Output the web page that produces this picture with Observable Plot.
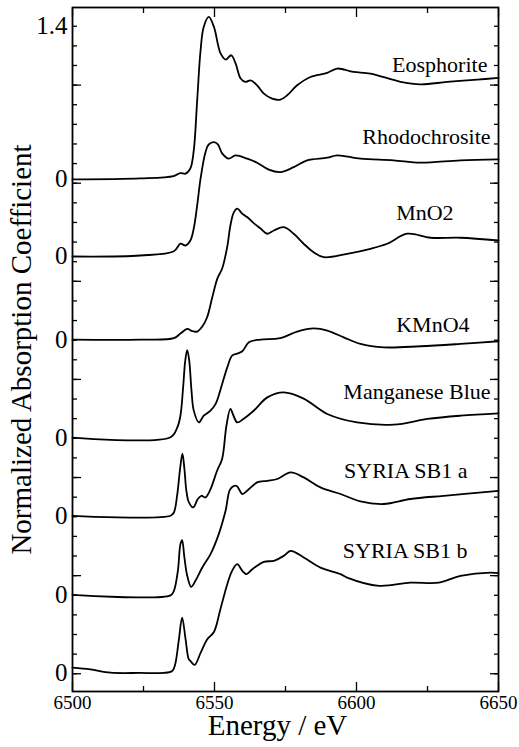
<!DOCTYPE html>
<html><head><meta charset="utf-8">
<script src="https://cdn.jsdelivr.net/npm/d3@7"></script>
<script src="https://cdn.jsdelivr.net/npm/@observablehq/plot@0.6"></script>
<style>body{margin:0;background:#fff} svg text{font-family:"Liberation Serif","DejaVu Serif",serif}</style>
</head><body><div id="chart"></div>
<script>
// Spectrum names (top to bottom) and vertical offsets (baselines)
const names = ["Eosphorite", "Rhodochrosite", "MnO2", "KMnO4", "Manganese Blue", "SYRIA SB1 a", "SYRIA SB1 b"];
const offsets = [5.039, 4.253, 3.406, 2.406, 1.610, 0.804, 0.008];

// Energies (eV) and normalized absorption for each spectrum
const eosE = [6500, 6523.9, 6535.6, 6538.0, 6539.8, 6541.5, 6542.7, 6543.9, 6545.1, 6546.2, 6548.0, 6549.8, 6552.1, 6553.9, 6555.9, 6557.4, 6559.2, 6560.9, 6562.7, 6565.0, 6567.4, 6570.3, 6573.2, 6575.6, 6579.1, 6583.8, 6589.7, 6593.2, 6598.9, 6604.9, 6615.5, 6622.5, 6631.9, 6642.5, 6650];
const eosV = [0, 0.01, 0.034, 0.064, 0.058, 0.112, 0.296, 0.806, 1.316, 1.554, 1.656, 1.554, 1.286, 1.221, 1.265, 1.184, 1.028, 0.993, 1.010, 0.959, 0.874, 0.823, 0.813, 0.857, 0.959, 1.044, 1.085, 1.130, 1.095, 1.079, 0.995, 0.969, 0.993, 1.017, 1.034];

const rhoE = [6500, 6523.9, 6535.7, 6538.0, 6539.8, 6541.5, 6542.7, 6543.9, 6545.1, 6546.8, 6548.0, 6549.8, 6551.2, 6552.7, 6555.0, 6557.4, 6561.5, 6565.0, 6569.1, 6573.2, 6577.9, 6582.6, 6589.7, 6593.2, 6601.4, 6613.0, 6622.5, 6636.6, 6650];
const rhoV = [0, 0.01, 0.054, 0.130, 0.112, 0.163, 0.286, 0.520, 0.796, 1.061, 1.143, 1.166, 1.143, 1.051, 0.997, 1.031, 0.997, 0.956, 0.885, 0.860, 0.911, 0.980, 1.007, 1.031, 0.997, 0.980, 0.956, 0.980, 0.990];

const mno2E = [6500, 6523.9, 6535.7, 6538.0, 6540.4, 6542.1, 6543.9, 6545.7, 6547.4, 6549.2, 6551.0, 6552.7, 6554.5, 6555.6, 6556.8, 6558.0, 6559.8, 6561.5, 6563.8, 6566.2, 6568.6, 6570.9, 6574.4, 6577.9, 6581.4, 6585.0, 6588.5, 6596.7, 6604.9, 6610.8, 6617.9, 6626.1, 6636.6, 6650];
const mno2V = [0, 0, 0.015, 0.061, 0.109, 0.087, 0.082, 0.133, 0.228, 0.429, 0.622, 0.724, 0.949, 1.163, 1.296, 1.334, 1.283, 1.249, 1.187, 1.133, 1.079, 1.112, 1.146, 1.079, 0.977, 0.888, 0.840, 0.874, 0.925, 0.977, 1.079, 1.038, 1.038, 1.010];

const kmno4E = [6500, 6534.5, 6536.9, 6538.0, 6539.0, 6539.7, 6540.4, 6541.1, 6541.9, 6542.7, 6544.5, 6546.2, 6548.6, 6550.4, 6552.7, 6554.5, 6556.2, 6558.0, 6559.8, 6562.1, 6566.2, 6573.2, 6579.1, 6585.0, 6589.7, 6595.5, 6601.4, 6609.6, 6622.5, 6636.6, 6650];
const kmno4V = [0, 0.005, 0.105, 0.224, 0.531, 0.786, 0.893, 0.786, 0.480, 0.276, 0.156, 0.224, 0.276, 0.344, 0.548, 0.717, 0.837, 0.857, 0.881, 0.972, 1.000, 1.015, 1.082, 1.115, 1.092, 1.023, 0.956, 0.921, 0.932, 0.956, 0.983];

const mnBlueE = [6500, 6534.5, 6535.7, 6536.9, 6537.8, 6538.7, 6539.4, 6540.1, 6541.0, 6542.5, 6544.1, 6545.4, 6546.8, 6548.6, 6550.9, 6552.7, 6554.2, 6555.6, 6556.7, 6558.0, 6560.3, 6563.8, 6568.6, 6574.4, 6581.4, 6589.7, 6600.2, 6613.1, 6624.9, 6636.6, 6650];
const mnBlueV = [0, 0, 0.034, 0.221, 0.459, 0.633, 0.480, 0.255, 0.136, 0.085, 0.170, 0.204, 0.187, 0.272, 0.459, 0.582, 0.918, 1.089, 1.020, 0.952, 0.990, 1.071, 1.207, 1.258, 1.194, 1.038, 0.952, 0.929, 0.987, 1.020, 1.044];

const syriaAE = [6500, 6534.5, 6535.7, 6537.1, 6538.0, 6538.6, 6539.4, 6540.4, 6541.8, 6543.3, 6545.7, 6548.6, 6551.5, 6553.9, 6555.6, 6557.7, 6559.8, 6561.5, 6565.0, 6568.6, 6572.1, 6576.8, 6581.4, 6587.3, 6594.4, 6601.4, 6609.6, 6619.0, 6630.7, 6650];
const syriaAV = [0, -0.005, 0.041, 0.245, 0.517, 0.558, 0.381, 0.194, 0.082, 0.143, 0.279, 0.415, 0.619, 0.857, 1.079, 1.112, 1.028, 1.061, 1.146, 1.163, 1.181, 1.248, 1.197, 1.095, 1.028, 0.952, 0.926, 0.977, 1.010, 1.061];

const syriaBE = [6500, 6506.3, 6513.4, 6523.9, 6532.0, 6535.1, 6536.1, 6537.4, 6538.6, 6539.8, 6540.9, 6541.5, 6543.0, 6545.1, 6547.4, 6549.8, 6552.1, 6554.5, 6556.2, 6558.0, 6559.8, 6561.3, 6563.3, 6567.4, 6570.9, 6574.4, 6576.8, 6581.4, 6587.3, 6594.4, 6596.7, 6607.9, 6619.0, 6629.0, 6636.6, 6647.2, 6650];
const syriaBV = [0.054, 0.036, 0.003, 0, 0, 0.020, 0.082, 0.327, 0.564, 0.347, 0.143, 0.122, 0.082, 0.204, 0.342, 0.418, 0.653, 0.905, 1.041, 1.109, 1.041, 1.007, 1.058, 1.133, 1.143, 1.194, 1.245, 1.177, 1.074, 1.007, 0.972, 0.888, 0.921, 0.921, 0.990, 1.023, 1.017];

// Curve label anchor points (right end of text)
const labelX = [6646.1, 6647.2, 6634.2, 6639.8, 6647.2, 6639.1, 6639.1];
const labelY = [6.21, 5.47, 4.70, 3.56, 2.87, 2.07, 1.25];

// Axis ticks and labels
const xMajor = [6500, 6550, 6600, 6650];
const xMinor = [6525, 6575, 6625];
const xTickLabels = ["6500", "6550", "6600", "6650"];
const yMinor = d3.range(0, 6.61, 0.2).map(v => +v.toFixed(1));
const yMajor = [0, 1, 2, 3, 4, 5, 6];
const yLabelPos = [6.6, ...offsets];
const yLabelText = ["1.4", "0", "0", "0", "0", "0", "0", "0"];

const energies = [eosE, rhoE, mno2E, kmno4E, mnBlueE, syriaAE, syriaBE];
const values = [eosV, rhoV, mno2V, kmno4V, mnBlueV, syriaAV, syriaBV];

const rows = [];
names.forEach((n, i) => {
  energies[i].forEach((e, j) => rows.push({name: n, E: e, y: offsets[i] + values[i][j]}));
});

const xLab = new Map(xMajor.map((v, i) => [v, xTickLabels[i]]));
const yLab = new Map(yLabelPos.map((v, i) => [v, yLabelText[i]]));
const blank = () => "";
const serif = "Liberation Serif";

const chart = Plot.plot({
  width: 519, height: 747,
  marginLeft: 72, marginRight: 21, marginTop: 7, marginBottom: 56,
  x: {domain: [6500, 6650]},
  y: {domain: [-0.181, 6.791]},
  style: {fontFamily: serif, background: "white", color: "black"},
  marks: [
    Plot.axisX(xMinor, {anchor: "bottom", tickSize: -5, strokeWidth: 1.3, tickFormat: blank, label: null}),
    Plot.axisX(xMajor, {anchor: "bottom", tickSize: -9, strokeWidth: 1.3, tickFormat: blank, label: null}),
    Plot.axisX(xMinor, {anchor: "top", tickSize: -5, strokeWidth: 1.3, tickFormat: blank, label: null}),
    Plot.axisX(xMajor, {anchor: "top", tickSize: -9, strokeWidth: 1.3, tickFormat: blank, label: null}),
    Plot.axisX(xMajor, {anchor: "bottom", tickSize: 0, tickPadding: 4, fontSize: 19, fontFamily: serif, tickFormat: d => xLab.get(d), label: null}),
    Plot.axisY(yMinor, {anchor: "left", tickSize: -5, strokeWidth: 1.3, tickFormat: blank, label: null}),
    Plot.axisY(yMajor, {anchor: "left", tickSize: -9, strokeWidth: 1.3, tickFormat: blank, label: null}),
    Plot.axisY(yMinor, {anchor: "right", tickSize: -5, strokeWidth: 1.3, tickFormat: blank, label: null}),
    Plot.axisY(yMajor, {anchor: "right", tickSize: -9, strokeWidth: 1.3, tickFormat: blank, label: null}),
    Plot.axisY(yLabelPos, {anchor: "left", tickSize: 0, tickPadding: 5, fontSize: 25, fontFamily: serif, tickFormat: d => yLab.get(d), label: null}),
    Plot.frame({stroke: "black", strokeWidth: 1.8}),
    Plot.line(rows, {x: "E", y: "y", z: "name", curve: "catmull-rom", stroke: "black", strokeWidth: 1.8}),
    Plot.text(names, {x: (d, i) => labelX[i], y: (d, i) => labelY[i], text: d => d, textAnchor: "end", fontSize: 22, fontFamily: serif, fill: "black"}),
    Plot.text(["Energy / eV"], {frameAnchor: "bottom", textAnchor: "middle", lineAnchor: "middle", dx: -8, dy: 34, fontSize: 29, fontFamily: serif, fill: "black"}),
    Plot.text(["Normalized Absorption Coefficient"], {frameAnchor: "left", textAnchor: "middle", lineAnchor: "middle", dx: -51, rotate: -90, fontSize: 29, fontFamily: serif, fill: "black"})
  ]
});
document.getElementById("chart").appendChild(chart);
</script>
</body></html>
